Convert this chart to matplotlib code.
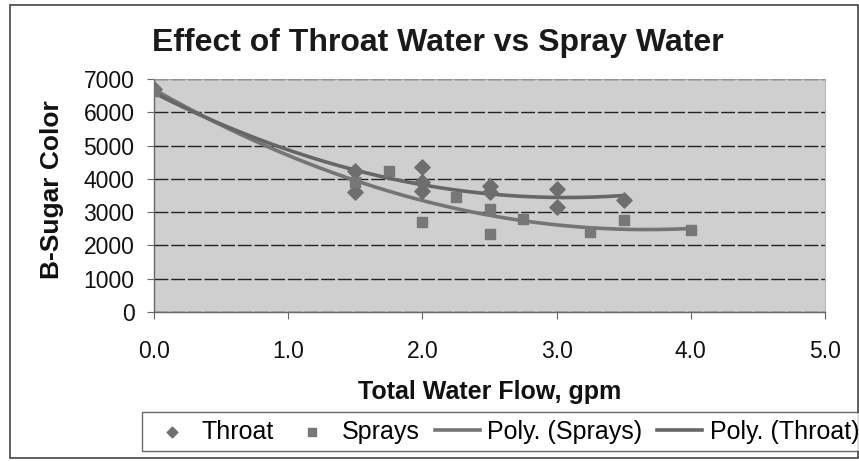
import numpy as np
import matplotlib
matplotlib.use("Agg")
import matplotlib.pyplot as plt
from matplotlib.patches import Rectangle

plt.rcParams['font.family'] = ['Liberation Sans', 'DejaVu Sans']

title = "Effect of Throat Water vs Spray Water"
xlabel = "Total Water Flow, gpm"
ylabel = "B-Sugar Color"

throat_x = [0.0, 1.5, 1.5, 2.0, 2.0, 2.0, 2.5, 2.5, 3.0, 3.0, 3.5]
throat_y = [6700, 4250, 3600, 4350, 3900, 3650, 3800, 3600, 3700, 3150, 3350]

sprays_x = [0.0, 1.5, 1.75, 2.0, 2.25, 2.5, 2.5, 2.75, 3.25, 3.5, 4.0]
sprays_y = [6650, 3900, 4250, 2700, 3450, 3100, 2350, 2800, 2400, 2750, 2450]

xticks = [0.0, 1.0, 2.0, 3.0, 4.0, 5.0]
yticks = [0, 1000, 2000, 3000, 4000, 5000, 6000, 7000]

W, H = 859, 461
fig = plt.figure(figsize=(W / 100, H / 100), dpi=100)
fig.patch.set_facecolor('white')

# outer chart border
fig.add_artist(Rectangle((10 / W, 3 / H), 848 / W, 453 / H, transform=fig.transFigure,
                         fill=False, edgecolor='#444444', lw=1.2))

ax = fig.add_axes([154 / W, 1 - 312 / H, (825 - 154) / W, (312 - 79) / H])
ax.set_facecolor('#cfcfcf')
ax.set_xlim(0, 5)
ax.set_ylim(0, 7000)
ax.set_yticks(yticks)
ax.set_xticks(xticks)
ax.set_xticklabels([f"{v:.1f}" for v in xticks], fontsize=16.5, color='#111111')
ax.set_yticklabels([str(v) for v in yticks], fontsize=16.5, color='#111111')
ax.tick_params(axis='x', direction='out', length=5, pad=15, color='#666666')
ax.tick_params(axis='y', direction='out', length=5, pad=9, color='#666666')
ax.yaxis.grid(True, color='#222222', lw=1.0, linestyle=(0, (10, 2)))
ax.set_axisbelow(True)
for s in ['top', 'right']:
    ax.spines[s].set_color('#aaaaaa')
    ax.spines[s].set_linewidth(0.6)
for s in ['left', 'bottom']:
    ax.spines[s].set_color('#666666')
    ax.spines[s].set_linewidth(1.0)

# polynomial (order 2) trendlines
ps = np.polyfit(sprays_x, sprays_y, 2)
pt = np.polyfit(throat_x, throat_y, 2)
xs = np.linspace(min(sprays_x), max(sprays_x), 200)
xt = np.linspace(min(throat_x), max(throat_x), 200)
l1, = ax.plot(xs, np.polyval(ps, xs), color='#757575', lw=2.6, zorder=3)
l2, = ax.plot(xt, np.polyval(pt, xt), color='#666666', lw=2.6, zorder=3)

m1 = ax.scatter(throat_x, throat_y, marker='D', s=60, color='#6e6e6e', zorder=4)
m2 = ax.scatter(sprays_x, sprays_y, marker='s', s=60, color='#777777', zorder=4)

fig.text(490 / W, 1 - 392 / H, xlabel, fontsize=18, fontweight='bold',
         ha='center', va='center', color='#111111')
fig.text(52 / W, 1 - 190 / H, ylabel, fontsize=19, fontweight='bold', rotation=90,
         ha='center', va='center', color='#111111')

fig.text(438 / W, 1 - 43 / H, title, fontsize=23, fontweight='bold',
         ha='center', va='center', color='#1a1a1a')

leg = fig.legend([m1, m2, l1, l2], ['Throat', 'Sprays', 'Poly. (Sprays)', 'Poly. (Throat)'],
                 loc='upper left', bbox_to_anchor=(142 / W, 1 - 412 / H), ncol=4,
                 fontsize=18, frameon=True, fancybox=False, edgecolor='#444444',
                 handlelength=1.8, handletextpad=0.3, columnspacing=0.6,
                 markerscale=0.7, borderpad=0.3, borderaxespad=0)
leg.get_frame().set_linewidth(1.0)

fig.savefig('out.png', dpi=100)
